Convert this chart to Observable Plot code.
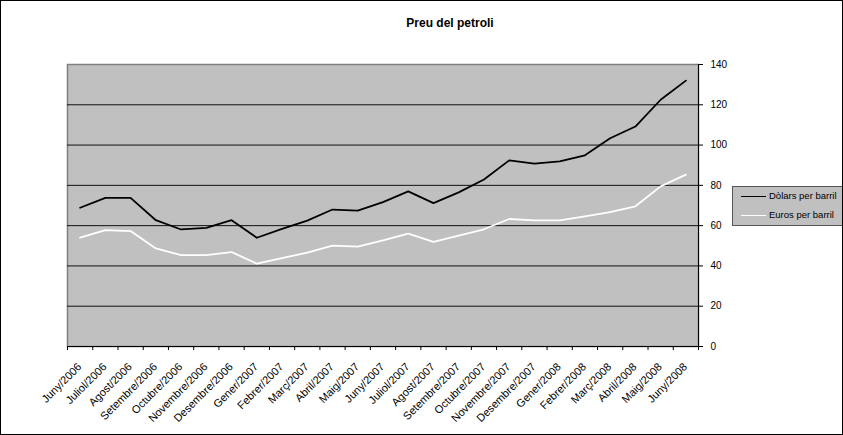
<!DOCTYPE html>
<html><head><meta charset="utf-8">
<script src="https://cdn.jsdelivr.net/npm/d3@7"></script>
<script src="https://cdn.jsdelivr.net/npm/@observablehq/plot@0.6"></script>
<style>
body{margin:0;background:#fff;font-family:"Liberation Sans",Arial,sans-serif}
#wrap{position:relative;width:843px;height:435px;overflow:hidden;background:#fff}
#chart svg{display:block}
#border{position:absolute;left:0;top:0;width:843px;height:435px;box-sizing:border-box;border:1px solid #000;pointer-events:none}
#title{position:absolute;left:0;width:900px;top:16px;text-align:center;font-weight:bold;font-size:12px;color:#000}
#legend{position:absolute;left:732px;top:186px;width:115px;height:40px;box-sizing:border-box;border:1px solid #555;background:#c0c0c0;font-size:9.5px;color:#000}
#legend .row{position:absolute;left:8px;height:12px;line-height:12px;white-space:nowrap}
#legend .sw{display:inline-block;width:25px;height:0;border-top:1px solid;vertical-align:middle;margin-right:3px}
</style></head><body>
<div id="wrap"><div id="chart"></div><div id="title">Preu del petroli</div><div id="legend"></div><div id="border"></div></div>
<script>
const months = ["Juny/2006","Juliol/2006","Agost/2006","Setembre/2006","Octubre/2006","Novembre/2006","Desembre/2006","Gener/2007","Febrer/2007","Març/2007","Abril/2007","Maig/2007","Juny/2007","Juliol/2007","Agost/2007","Setembre/2007","Octubre/2007","Novembre/2007","Desembre/2007","Gener/2008","Febrer/2008","Març/2008","Abril/2008","Maig/2008","Juny/2008"];
const dolars = [68.9,73.8,73.8,62.7,58.1,58.9,62.7,54.0,58.4,62.5,68.0,67.5,71.7,77.0,71.2,76.5,82.9,92.4,90.8,91.9,94.9,103.4,109.2,122.5,132.0];
const euros = [54.0,57.8,57.3,48.7,45.4,45.4,46.9,41.1,43.9,46.6,50.1,49.6,52.7,56.0,51.9,55.0,58.2,63.3,62.6,62.6,64.6,66.7,69.6,79.5,85.3];
const yTicks = [0,20,40,60,80,100,120,140];
const seriesNames = ["Dòlars per barril","Euros per barril"];
const seriesColors = ["#000000","#ffffff"];

const table = months.map((m,i)=>({i, m, d: dolars[i], e: euros[i]}));
const idx = months.map((m,i)=>i);
const bounds = d3.range(months.length+1).map(i=>i-0.5);

const chart = Plot.plot({
  width: 843, height: 435,
  marginLeft: 67, marginRight: 145, marginTop: 64, marginBottom: 89,
  style: {fontFamily: '"Liberation Sans", Arial, sans-serif', fontSize: "10px", color: "#000", background: "transparent"},
  x: {type: "linear", domain: [-0.5, months.length-0.5], axis: null, label: null},
  y: {domain: [0,140], axis: null, label: null},
  marks: [
    Plot.frame({fill: "#c0c0c0", stroke: "#808080", strokeWidth: 1.5}),
    Plot.ruleY(yTicks.filter(v=>v>0 && v<140), {stroke: "#111", strokeWidth: 1}),
    Plot.ruleY([0], {stroke: "#000", strokeWidth: 1}),
    Plot.ruleX([months.length-0.5], {stroke: "#000", strokeWidth: 1}),
    Plot.axisX(bounds, {tickSize: 4, text: null, stroke: "#000", label: null}),
    Plot.axisX(idx, {tickSize: 0, tickPadding: 18.5, dx: -0.5, tickRotate: -45, tickFormat: i=>months[i], fontSize: 11, fill: "#000", label: null}),
    Plot.axisY(yTicks, {anchor: "right", tickSize: 4, tickPadding: 8, fontSize: 10, fill: "#000", stroke: "#000", label: null}),
    Plot.lineY(table, {x: "i", y: "d", stroke: seriesColors[0], strokeWidth: 1.8}),
    Plot.lineY(table, {x: "i", y: "e", stroke: seriesColors[1], strokeWidth: 1.8})
  ]
});
document.getElementById("chart").appendChild(chart);

const leg = document.getElementById("legend");
seriesNames.forEach((n,k)=>{
  const r = document.createElement("div");
  r.className = "row";
  r.style.top = (3 + k*19) + "px";
  r.innerHTML = `<span class="sw" style="border-color:${seriesColors[k]}"></span>${n}`;
  leg.appendChild(r);
});
</script>
</body></html>
